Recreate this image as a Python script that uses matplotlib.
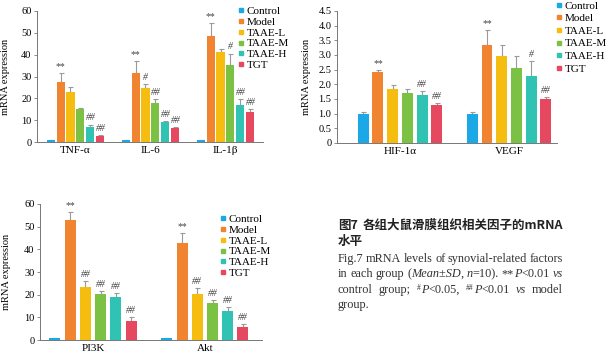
import matplotlib
matplotlib.use("Agg")
import matplotlib.pyplot as plt
import numpy as np

plt.rcParams['font.family'] = ['Liberation Serif', 'DejaVu Serif']

groups = ["Control", "Model", "TAAE-L", "TAAE-M", "TAAE-H", "TGT"]
legend_labels = ["Control", "Model", "TAAE-L", "TAAE-M", "TAAE-H", "TGT"]
colors = ["#1aa9e6", "#f08431", "#f5bd10", "#7bc143", "#30c2b3", "#e6485f"]

# panel A: inflammatory factors
genes_a = ["TNF-α", "IL-6", "IL-1β"]
mean_a = [[0.8, 27.5, 22.7, 15.0, 6.8, 2.7],
          [0.8, 31.7, 24.8, 17.8, 9.1, 6.2],
          [0.8, 48.6, 41.2, 35.3, 16.8, 13.6]]
sd_a = [[0.1, 4.0, 2.7, 0.5, 1.2, 0.6],
        [0.1, 5.5, 1.8, 2.0, 0.6, 0.8],
        [0.1, 5.8, 1.5, 5.2, 3.0, 1.6]]
sig_a = [["", "**", "", "", "##", "##"],
         ["", "**", "#", "##", "##", "##"],
         ["", "**", "", "#", "##", "##"]]

# panel B: HIF-1a / VEGF
genes_b = ["HIF-1α", "VEGF"]
mean_b = [[1.0, 2.41, 1.85, 1.72, 1.64, 1.29],
          [0.98, 3.35, 2.98, 2.57, 2.30, 1.50]]
sd_b = [[0.07, 0.08, 0.12, 0.12, 0.12, 0.06],
        [0.06, 0.50, 0.37, 0.40, 0.50, 0.08]]
sig_b = [["", "**", "", "", "##", "##"],
         ["", "**", "", "", "#", "##"]]

# panel C: PI3K / Akt
genes_c = ["PI3K", "Akt"]
mean_c = [[0.8, 52.8, 23.5, 20.2, 19.1, 8.5],
          [0.8, 43.0, 20.5, 16.2, 12.6, 5.6]]
sd_c = [[0.1, 3.5, 2.7, 1.5, 1.8, 1.6],
        [0.1, 4.3, 2.6, 1.5, 2.0, 1.6]]
sig_c = [["", "**", "##", "##", "##", "##"],
         ["", "**", "##", "##", "##", "##"]]

W, H = 608, 355
fig = plt.figure(figsize=(W / 100, H / 100), dpi=100)


def px_axes(x0, x1, ytop, ybot):
    return fig.add_axes([x0 / W, 1 - ybot / H, (x1 - x0) / W, (ybot - ytop) / H])


def panel(ax, genes, means, sds, sigs, step, width, xlim, ylim, yticks, fmt, lab_x):
    means = np.array(means)
    sds = np.array(sds)
    offs = (np.arange(len(groups)) - 2.5) * step
    for g in range(len(genes)):
        xs = g + offs
        ax.errorbar(xs, means[g], yerr=[np.zeros(len(groups)), sds[g]], fmt='none',
                    ecolor="#9a9a9a", elinewidth=0.8, capsize=1.8, capthick=0.8, zorder=1)
        ax.bar(xs, means[g], width=width, color=colors, zorder=2)
        for i, s in enumerate(sigs[g]):
            if s:
                ax.annotate(s, (xs[i], means[g][i] + sds[g][i]), xytext=(0, 1.5),
                            textcoords="offset points", ha="center", va="bottom",
                            fontsize=7, color="#444444",
                            style="normal" if s == "**" else "italic")
    ax.set_xlim(*xlim)
    ax.set_ylim(*ylim)
    ax.set_xticks(range(len(genes)))
    ax.set_xticklabels(genes, fontsize=8)
    ax.set_yticks(yticks)
    ax.set_yticklabels([fmt(v) for v in yticks], fontsize=7.5)
    ax.tick_params(axis='x', length=0, pad=3)
    ax.tick_params(axis='y', length=2.5, width=0.6, color="#777777", pad=1.5)
    for s in ["top", "right"]:
        ax.spines[s].set_visible(False)
    for s in ["left", "bottom"]:
        ax.spines[s].set_color("#777777")
        ax.spines[s].set_linewidth(0.7)
    ax.set_ylabel("mRNA expression", fontsize=7.5)
    ax.yaxis.set_label_coords(lab_x, 0.5)


def legend(ax, x, y, spacing):
    handles = [plt.Line2D([], [], marker='s', ls='none', color=c, markersize=3.5) for c in colors]
    ax.legend(handles, legend_labels, loc="upper left", bbox_to_anchor=(x / W, 1 - y / H),
              bbox_transform=fig.transFigure, frameon=False, fontsize=8,
              handlelength=0.5, handletextpad=0.25, labelspacing=spacing,
              borderpad=0, borderaxespad=0)


ax1 = px_axes(37, 263, 11, 142)
panel(ax1, genes_a, mean_a, sd_a, sig_a, 0.133, 0.107, (-0.513, 2.5), (0, 60),
      np.arange(0, 61, 10), lambda v: f"{v:g}", -0.12)
legend(ax1, 238, 6, 0.1)

ax2 = px_axes(337, 557, 11, 143)
panel(ax2, genes_b, mean_b, sd_b, sig_b, 0.135, 0.10, (-0.578, 1.44), (0, 4.5),
      np.arange(0, 4.51, 0.5), lambda v: "0" if v == 0 else f"{v:.1f}", -0.118)
legend(ax2, 556, 1, 0.25)

ax3 = px_axes(40, 262, 204, 340)
panel(ax3, genes_c, mean_c, sd_c, sig_c, 0.136, 0.098, (-0.473, 1.51), (0, 60),
      np.arange(0, 61, 10), lambda v: f"{v:g}", -0.13)
legend(ax3, 220, 214, 0.1)

# caption at lower right
renderer = fig.canvas.get_renderer()
styles = {
    "n": dict(fontsize=8.8, color="#333333"),
    "i": dict(fontsize=8.8, color="#333333", style="italic"),
    "sup": dict(fontsize=5.5, color="#333333"),
    "cjk": dict(fontsize=9, color="#222222", weight="bold",
                family=["Noto Sans CJK SC", "DejaVu Sans"]),
}


def caption_line(words, y, x0=338, x1=563, justify=True):
    items = []
    for w in words:
        if isinstance(w, str):
            w = [(w, "n")]
        pieces = []
        total = 0
        for s, st in w:
            t = fig.text(0, 0, s, va="baseline", **styles[st])
            wd = t.get_window_extent(renderer).width
            pieces.append((t, total, st))
            total += wd
        items.append((pieces, total))
    widths = sum(it[1] for it in items)
    if justify and len(items) > 1:
        gap = (x1 - x0 - widths) / (len(items) - 1)
    else:
        gap = 3.2
    x = x0
    for pieces, total in items:
        for t, dx, st in pieces:
            dy = 3.5 if st == "sup" else 0
            t.set_position(((x + dx) / W, 1 - (y - dy) / H))
        x += total + gap


caption_line([[("图7", "cjk")], [("各组大鼠滑膜组织相关因子的mRNA", "cjk")]], 229)
caption_line([[("水平", "cjk")]], 245, justify=False)
caption_line(["Fig.7", "mRNA", "levels", "of", "synovial-related", "factors"], 262)
caption_line(["in", "each", "group", [("(", "n"), ("Mean±SD", "i"), (",", "n")],
              [("n", "i"), ("=10).", "n")], [("**", "n"), ("P", "i"), ("<0.01", "n")],
              [("vs", "i")]], 277)
caption_line(["control", "group;", [("#", "sup"), ("P", "i"), ("<0.05,", "n")],
              [("##", "sup"), ("P", "i"), ("<0.01", "n")], [("vs", "i")], "model"], 293)
caption_line(["group."], 308, justify=False)

fig.savefig("out.png", dpi=100)
